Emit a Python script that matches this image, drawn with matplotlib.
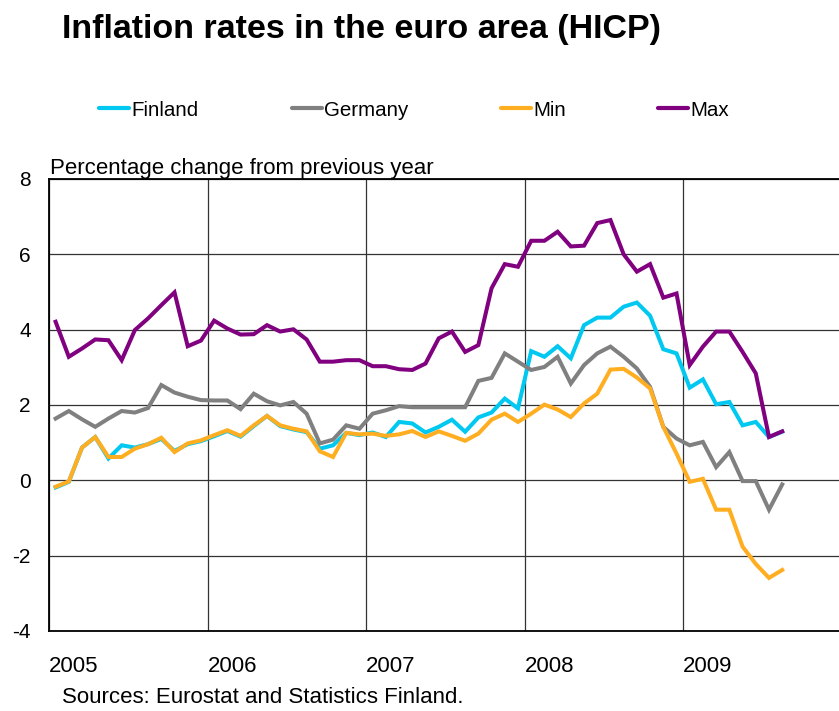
import matplotlib
matplotlib.use("Agg")
import matplotlib.pyplot as plt
from matplotlib.lines import Line2D

plt.rcParams['font.family'] = ['Liberation Sans', 'DejaVu Sans']

# monthly data, Jan 2005 .. Aug 2009
finland = [-0.19, -0.04, 0.87, 1.15, 0.58, 0.93, 0.87, 0.96, 1.10, 0.78, 0.96, 1.04,
           1.17, 1.31, 1.16, 1.44, 1.71, 1.44, 1.35, 1.28, 0.84, 0.93, 1.26, 1.20,
           1.27, 1.15, 1.55, 1.51, 1.27, 1.42, 1.61, 1.29, 1.67, 1.80, 2.17, 1.91,
           3.43, 3.28, 3.56, 3.24, 4.12, 4.32, 4.32, 4.61, 4.72, 4.37, 3.48, 3.37,
           2.46, 2.68, 2.02, 2.08, 1.46, 1.55, 1.15, 1.29]
germany = [1.64, 1.84, 1.62, 1.42, 1.64, 1.84, 1.80, 1.92, 2.53, 2.33, 2.22, 2.13,
           2.12, 2.12, 1.89, 2.30, 2.10, 1.99, 2.08, 1.77, 0.98, 1.08, 1.46, 1.37,
           1.77, 1.86, 1.97, 1.94, 1.94, 1.94, 1.94, 1.94, 2.64, 2.72, 3.37, 3.15,
           2.93, 3.01, 3.28, 2.57, 3.06, 3.37, 3.55, 3.28, 2.97, 2.48, 1.42, 1.11,
           0.93, 1.02, 0.35, 0.75, -0.02, -0.02, -0.78, -0.11]
minimum = [-0.17, -0.03, 0.87, 1.15, 0.62, 0.62, 0.84, 0.96, 1.13, 0.75, 0.98, 1.06,
           1.20, 1.33, 1.18, 1.46, 1.71, 1.46, 1.37, 1.30, 0.77, 0.62, 1.26, 1.22,
           1.24, 1.18, 1.22, 1.31, 1.15, 1.30, 1.18, 1.05, 1.24, 1.61, 1.77, 1.55,
           1.77, 2.01, 1.88, 1.68, 2.04, 2.30, 2.94, 2.96, 2.73, 2.44, 1.42, 0.71,
           -0.04, 0.04, -0.78, -0.78, -1.76, -2.22, -2.59, -2.38]
maximum = [4.21, 3.28, 3.50, 3.74, 3.72, 3.19, 3.99, 4.30, 4.65, 4.99, 3.56, 3.71,
           4.24, 4.03, 3.87, 3.88, 4.12, 3.95, 4.01, 3.74, 3.15, 3.15, 3.19, 3.19,
           3.03, 3.03, 2.95, 2.93, 3.10, 3.77, 3.95, 3.41, 3.59, 5.10, 5.74, 5.67,
           6.36, 6.36, 6.60, 6.21, 6.23, 6.83, 6.91, 6.00, 5.54, 5.74, 4.85, 4.96,
           3.06, 3.55, 3.95, 3.95, 3.41, 2.84, 1.15, 1.30]

years = ['2005', '2006', '2007', '2008', '2009']
series = [finland, germany, minimum, maximum]
names = ['Finland', 'Germany', 'Min', 'Max']
colors = ['#00C8F0', '#808080', '#FFAE22', '#800080']

W, H = 839, 711
fig = plt.figure(figsize=(W / 100, H / 100), dpi=100)
ax = fig.add_axes([49 / W, 1 - 631 / H, (W - 49) / W, (631 - 179) / H])

months = [i + 0.5 for i in range(len(finland))]
for vals, c in zip(series, colors):
    ax.plot(months, vals, color=c, lw=2.9, solid_joinstyle='miter')

ax.set_xlim(0, 59.8)
ax.set_ylim(-4, 8)
ax.set_yticks(range(-4, 9, 2))
ax.set_yticklabels([str(v) for v in range(-4, 9, 2)], fontsize=15)
ax.set_xticks([12 * k for k in range(len(years))])
ax.set_xticklabels(years, fontsize=16, ha='left')
ax.tick_params(axis='both', length=0)
ax.tick_params(axis='y', pad=13)
ax.tick_params(axis='x', pad=18)
ax.grid(True, color='#333333', lw=0.9)
ax.set_axisbelow(True)
for s in ['left', 'bottom', 'top']:
    ax.spines[s].set_color('black')
    ax.spines[s].set_linewidth(1.3)
ax.spines['right'].set_visible(False)

fig.text(62 / W, 1 - 38 / H, 'Inflation rates in the euro area (HICP)',
         fontsize=24.5, fontweight='bold', va='baseline')
fig.text(50 / W, 1 - 174 / H, 'Percentage change from previous year',
         fontsize=16, va='baseline')
fig.text(62 / W, 1 - 703 / H, 'Sources: Eurostat and Statistics Finland.',
         fontsize=16, va='baseline')

# legend drawn by hand
leg_x = [99, 292, 501, 658]
for x0, name, c in zip(leg_x, names, colors):
    fig.add_artist(Line2D([x0 / W, (x0 + 30) / W], [1 - 108 / H, 1 - 108 / H],
                          color=c, lw=3, solid_capstyle='round'))
    fig.text((x0 + 32) / W, 1 - 116 / H, name, fontsize=14.8, va='baseline')

fig.savefig('out.png', dpi=100)
